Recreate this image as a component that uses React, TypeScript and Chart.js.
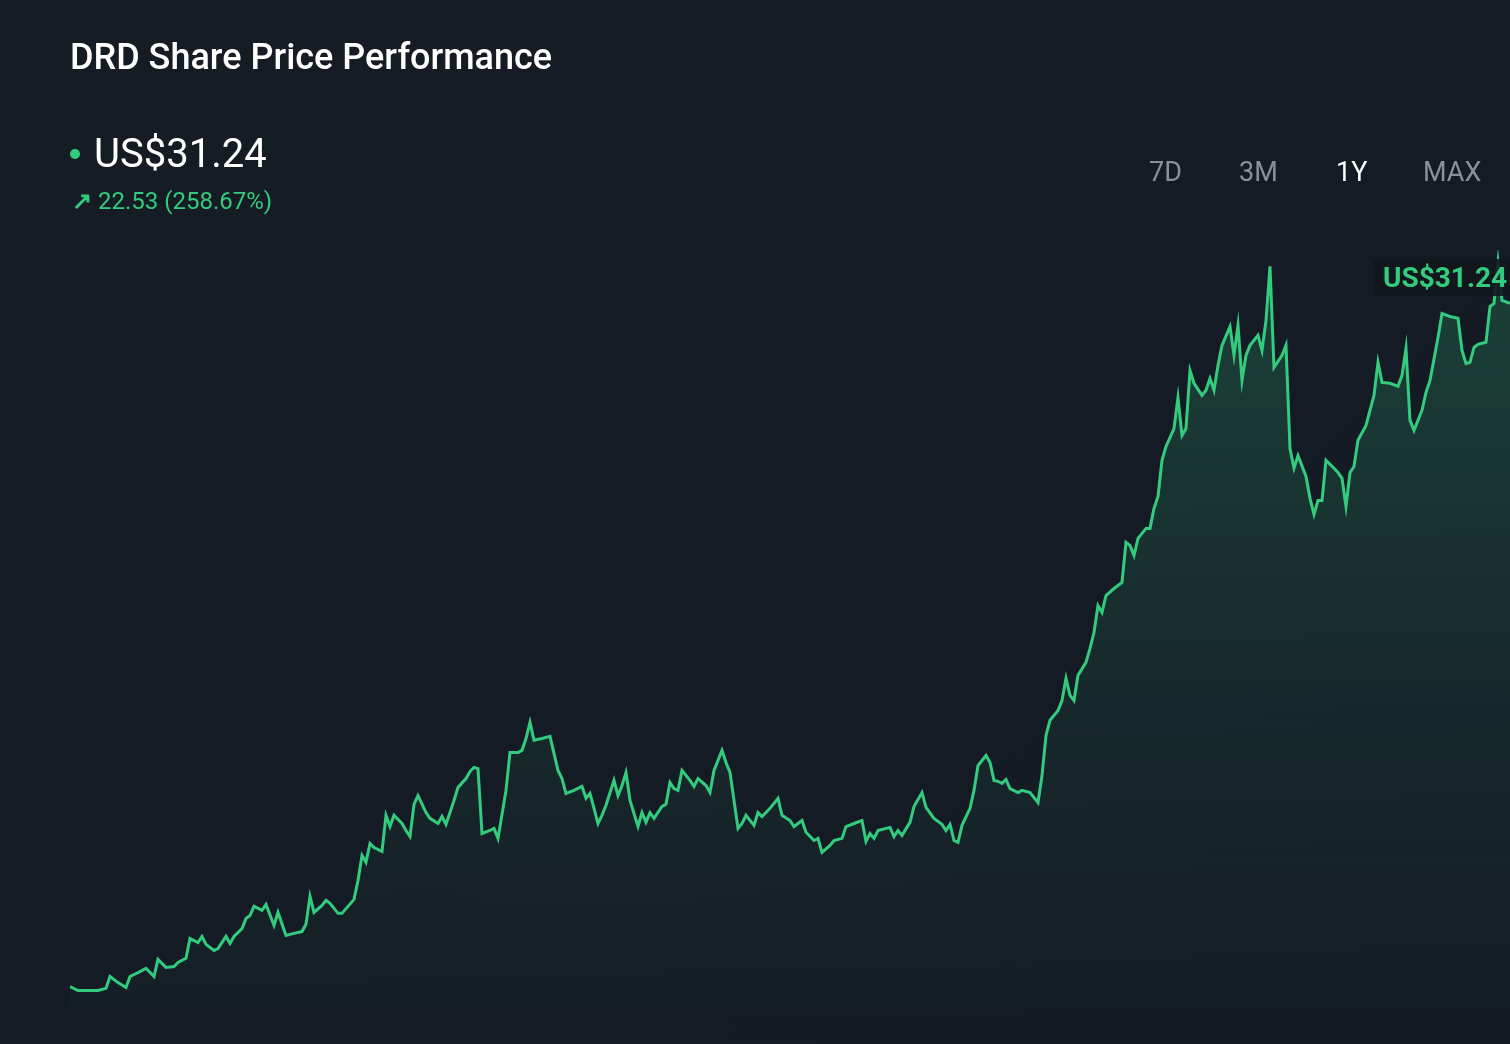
import { useEffect, useRef } from "react"
import { Chart, registerables } from "chart.js"

Chart.register(...registerables)

// day offset within the 1Y window
const days = [0,2,4,5,7,9,10,12,14,15,17,19,21,22,24,26,27,29,30,32,33,34,36,37,39,40,41,43,44,45,46,48,49,51,52,54,56,58,59,60,61,63,64,65,67,68,71,72,73,74,75,76,78,79,80,81,83,84,85,86,87,89,90,92,93,94,96,97,99,100,101,102,103,105,106,107,109,110,112,113,114,115,116,118,120,122,123,124,126,128,129,130,132,133,134,136,137,138,139,140,142,143,144,145,146,148,149,150,151,152,153,155,156,157,159,160,161,163,164,165,167,168,169,171,172,173,175,177,178,180,181,183,184,186,187,188,190,191,193,194,196,198,199,200,201,202,204,205,206,207,208,210,211,213,214,216,218,219,220,221,222,223,225,226,227,229,230,231,232,233,234,235,237,238,240,242,243,244,245,247,248,249,250,251,252,254,255,256,257,258,259,261,263,264,265,266,267,269,270,271,272,273,274,276,277,278,279,280,281,283,284,285,286,287,288,290,291,292,293,294,295,297,298,299,300,301,303,304,305,306,307,309,310,311,312,313,314,316,317,318,319,320,321,322,324,325,326,327,328,330,332,333,334,335,336,338,339,340,342,343,345,347,348,349,350,351,352,354,355,356,357,358,360]

// closing price, US$
const prices = [8.74,8.61,8.61,8.61,8.61,8.68,9.07,8.87,8.71,9.07,9.2,9.34,9.07,9.63,9.37,9.4,9.53,9.67,10.32,10.19,10.39,10.13,9.93,9.99,10.39,10.16,10.39,10.65,10.98,11.08,11.38,11.25,11.44,10.75,11.18,10.42,10.49,10.55,10.79,11.71,11.18,11.41,11.58,11.48,11.15,11.15,11.61,12.23,13.06,12.83,13.45,13.32,13.19,14.38,14.01,14.38,14.11,13.88,13.68,14.74,15.03,14.47,14.28,14.11,14.34,14.08,14.87,15.3,15.59,15.82,15.96,15.92,13.78,13.88,13.95,13.62,15.2,16.45,16.45,16.52,16.91,17.44,16.85,16.91,16.98,15.86,15.59,15.1,15.2,15.33,14.94,15.1,14.11,14.38,14.71,15.53,15.03,15.36,15.79,14.87,14.01,14.47,14.15,14.47,14.28,14.67,14.74,15.46,15.26,15.2,15.86,15.53,15.33,15.59,15.36,15.13,15.86,16.52,16.12,15.79,13.95,14.11,14.38,14.05,14.47,14.34,14.61,14.94,14.38,14.21,14.01,14.21,13.82,13.55,13.62,13.16,13.39,13.55,13.62,14.01,14.11,14.21,13.52,13.78,13.62,13.88,13.95,13.98,13.68,13.88,13.72,14.15,14.67,15.13,14.64,14.28,14.08,13.88,14.08,13.55,13.49,14.05,14.61,15.2,16.02,16.35,16.12,15.53,15.5,15.43,15.56,15.26,15.13,15.2,15.13,14.8,15.69,17.01,17.51,17.83,18.16,18.89,18.33,18.16,18.99,19.42,19.88,20.4,21.29,21.06,21.62,21.85,22.05,23.37,23.27,22.94,23.5,23.83,23.83,24.49,24.88,26.07,26.53,27.12,28.14,26.89,27.12,29.03,28.61,28.21,28.38,28.77,28.38,29.2,29.86,30.48,29.53,30.52,28.7,29.53,29.86,30.19,29.69,30.68,32.46,29.13,29.53,29.86,26.46,25.81,26.23,25.54,24.82,24.29,24.75,24.75,26.07,25.81,25.67,25.48,24.55,25.67,25.87,26.73,27.22,27.72,28.21,29.3,28.64,28.61,28.51,28.87,29.76,27.39,27.06,27.72,28.31,28.7,30.12,30.91,30.81,30.75,29.69,29.26,29.3,29.79,29.89,29.96,31.14,31.24,32.59,31.34,31.24]

const ranges = ["7D", "3M", "1Y", "MAX"]
const GREEN = "#33cc7f"
const FONT = "Roboto, 'Noto Sans', sans-serif"

function PriceChart() {
  const chartRef = useRef<HTMLCanvasElement>(null)
  const chartInstance = useRef<Chart | null>(null)

  useEffect(() => {
    if (!chartRef.current) return
    if (chartInstance.current) chartInstance.current.destroy()
    const ctx = chartRef.current.getContext("2d")
    if (!ctx) return

    chartInstance.current = new Chart(ctx, {
      type: "line",
      data: {
        datasets: [
          {
            data: days.map((d, i) => ({ x: d, y: prices[i] })),
            borderColor: GREEN,
            borderWidth: 3,
            pointRadius: 0,
            tension: 0,
            fill: "start",
            backgroundColor: (c: any) => {
              const area = c.chart.chartArea
              if (!area) return "rgba(51,204,127,0.15)"
              const g = c.chart.ctx.createLinearGradient(0, area.top, 0, area.bottom)
              g.addColorStop(0, "rgba(51,204,127,0.22)")
              g.addColorStop(0.6, "rgba(51,204,127,0.08)")
              g.addColorStop(1, "rgba(51,204,127,0.02)")
              return g
            },
          },
        ],
      },
      options: {
        animation: false,
        responsive: true,
        maintainAspectRatio: false,
        layout: { padding: { left: 70, right: 0, top: 250, bottom: 35 } },
        plugins: { legend: { display: false }, tooltip: { enabled: false } },
        scales: {
          x: { type: "linear", min: 0, max: 360, display: false },
          y: { min: 8, max: 33, display: false },
        },
      },
    })

    return () => {
      if (chartInstance.current) chartInstance.current.destroy()
    }
  }, [])

  return <canvas ref={chartRef} />
}

export default function App() {
  return (
    <div
      style={{
        position: "fixed",
        inset: 0,
        width: 1510,
        height: 1044,
        background: "linear-gradient(135deg, #161c24 0%, #151b25 60%, #141a24 100%)",
        fontFamily: FONT,
        overflow: "hidden",
      }}
    >
      <div style={{ position: "absolute", inset: 0 }}>
        <PriceChart />
      </div>
      <div style={{ position: "absolute", left: 70, top: 36, color: "#fff", fontSize: 36, fontWeight: 500 }}>
        DRD Share Price Performance
      </div>
      <div style={{ position: "absolute", left: 70, top: 130, color: "#fff", fontSize: 40, display: "flex", alignItems: "center" }}>
        <span style={{ width: 10, height: 10, borderRadius: 5, background: GREEN, marginRight: 14 }} />
        US$31.24
      </div>
      <div style={{ position: "absolute", left: 72, top: 187, color: GREEN, fontSize: 24 }}>
        <span style={{ fontWeight: 700, marginRight: 6 }}>↗</span>22.53 (258.67%)
      </div>
      {ranges.map((r, i) => (
        <div
          key={r}
          style={{
            position: "absolute",
            left: [1149, 1239, 1336, 1423][i],
            top: 156,
            fontSize: 27,
            color: r === "1Y" ? "#ffffff" : "#8a8f98",
          }}
        >
          {r}
        </div>
      ))}
      <div
        style={{
          position: "absolute",
          left: 1373,
          top: 259,
          padding: "2px 10px",
          background: "rgba(18,23,30,0.9)",
          color: GREEN,
          fontSize: 28,
          fontWeight: 700,
          whiteSpace: "nowrap",
        }}
      >
        US$31.24
      </div>
    </div>
  )
}
